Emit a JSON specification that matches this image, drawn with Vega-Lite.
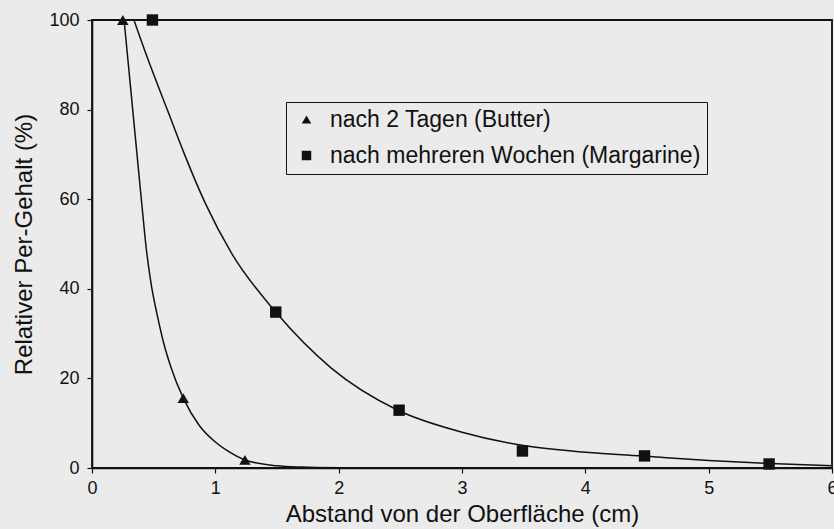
{
  "$schema": "https://vega.github.io/schema/vega-lite/v6.json",
  "width": 740,
  "height": 448,
  "autosize": {"type": "none"},
  "padding": {"left": 92, "top": 20, "right": 2, "bottom": 61},
  "background": "#ebebeb",
  "config": {
    "font": "Liberation Sans",
    "view": {"stroke": "#111111", "strokeWidth": 1.8},
    "axis": {
      "grid": false,
      "domainColor": "#111111",
      "domainWidth": 1.6,
      "tickColor": "#111111",
      "tickSize": 5,
      "tickWidth": 1.2,
      "labelColor": "#111111",
      "titleColor": "#111111",
      "labelFont": "Liberation Sans",
      "titleFont": "Liberation Sans",
      "labelFontSize": 18,
      "titleFontSize": 24,
      "titleFontWeight": "normal",
      "labelFlush": false,
      "format": "d"
    }
  },
  "datasets": {
    "points": [
      {"series": "nach 2 Tagen (Butter)", "x": 0.25, "y": 100},
      {"series": "nach 2 Tagen (Butter)", "x": 0.74, "y": 15.6},
      {"series": "nach 2 Tagen (Butter)", "x": 1.24, "y": 1.8},
      {"series": "nach mehreren Wochen (Margarine)", "x": 0.49, "y": 100},
      {"series": "nach mehreren Wochen (Margarine)", "x": 1.49, "y": 34.8},
      {"series": "nach mehreren Wochen (Margarine)", "x": 2.49, "y": 12.9},
      {"series": "nach mehreren Wochen (Margarine)", "x": 3.49, "y": 3.8},
      {"series": "nach mehreren Wochen (Margarine)", "x": 4.48, "y": 2.7},
      {"series": "nach mehreren Wochen (Margarine)", "x": 5.49, "y": 0.9}
    ],
    "curves": [
      {"series": "Butter", "x": 0.26, "y": 100},
      {"series": "Butter", "x": 0.33, "y": 80},
      {"series": "Butter", "x": 0.40, "y": 60},
      {"series": "Butter", "x": 0.44, "y": 49},
      {"series": "Butter", "x": 0.48, "y": 41},
      {"series": "Butter", "x": 0.53, "y": 34},
      {"series": "Butter", "x": 0.58, "y": 28},
      {"series": "Butter", "x": 0.64, "y": 22.5},
      {"series": "Butter", "x": 0.74, "y": 15.6},
      {"series": "Butter", "x": 0.87, "y": 9.5},
      {"series": "Butter", "x": 1.0, "y": 5.8},
      {"series": "Butter", "x": 1.1, "y": 3.8},
      {"series": "Butter", "x": 1.24, "y": 1.8},
      {"series": "Butter", "x": 1.5, "y": 0.5},
      {"series": "Butter", "x": 1.7, "y": 0.2},
      {"series": "Butter", "x": 2.0, "y": 0.05},
      {"series": "Margarine", "x": 0.34, "y": 100},
      {"series": "Margarine", "x": 0.45, "y": 91.5},
      {"series": "Margarine", "x": 0.61, "y": 80},
      {"series": "Margarine", "x": 0.75, "y": 70},
      {"series": "Margarine", "x": 0.92, "y": 59},
      {"series": "Margarine", "x": 1.13, "y": 48},
      {"series": "Margarine", "x": 1.49, "y": 34.8},
      {"series": "Margarine", "x": 1.94, "y": 22.3},
      {"series": "Margarine", "x": 2.48, "y": 12.9},
      {"series": "Margarine", "x": 3.0, "y": 8.0},
      {"series": "Margarine", "x": 3.5, "y": 5.0},
      {"series": "Margarine", "x": 4.0, "y": 3.5},
      {"series": "Margarine", "x": 4.5, "y": 2.6},
      {"series": "Margarine", "x": 5.0, "y": 1.7},
      {"series": "Margarine", "x": 5.5, "y": 1.0},
      {"series": "Margarine", "x": 6.0, "y": 0.5}
    ]
  },
  "layer": [
    {
      "data": {"name": "curves"},
      "mark": {"type": "line", "color": "#111111", "strokeWidth": 1.5, "interpolate": "monotone", "clip": true},
      "encoding": {
        "x": {"field": "x", "type": "quantitative", "scale": {"domain": [0, 6], "nice": false},
          "axis": {"title": "Abstand von der Oberfläche (cm)", "values": [0, 1, 2, 3, 4, 5, 6], "labelPadding": 6, "titlePadding": 5}},
        "y": {"field": "y", "type": "quantitative", "scale": {"domain": [0, 100], "nice": false},
          "axis": {"title": "Relativer Per-Gehalt (%)", "values": [0, 20, 40, 60, 80, 100], "labelPadding": 8, "titlePadding": 12}},
        "detail": {"field": "series"}
      }
    },
    {
      "data": {"name": "points"},
      "mark": {"type": "point", "filled": true, "color": "#111111", "opacity": 1, "size": 130},
      "encoding": {
        "x": {"field": "x", "type": "quantitative"},
        "y": {"field": "y", "type": "quantitative"},
        "shape": {
          "field": "series", "type": "nominal",
          "scale": {"domain": ["nach 2 Tagen (Butter)", "nach mehreren Wochen (Margarine)"], "range": ["triangle-up", "square"]},
          "legend": {
            "title": null,
            "orient": "none",
            "legendX": 194,
            "legendY": 82,
            "strokeColor": "#111111",
            "padding": 6,
            "rowPadding": 12,
            "labelFontSize": 23,
            "labelFont": "Liberation Sans",
            "labelColor": "#111111",
            "labelLimit": 600,
            "labelOffset": 12,
            "symbolSize": 90,
            "symbolFillColor": "#111111",
            "symbolStrokeColor": "#111111",
            "symbolOffset": 3
          }
        }
      }
    }
  ]
}
